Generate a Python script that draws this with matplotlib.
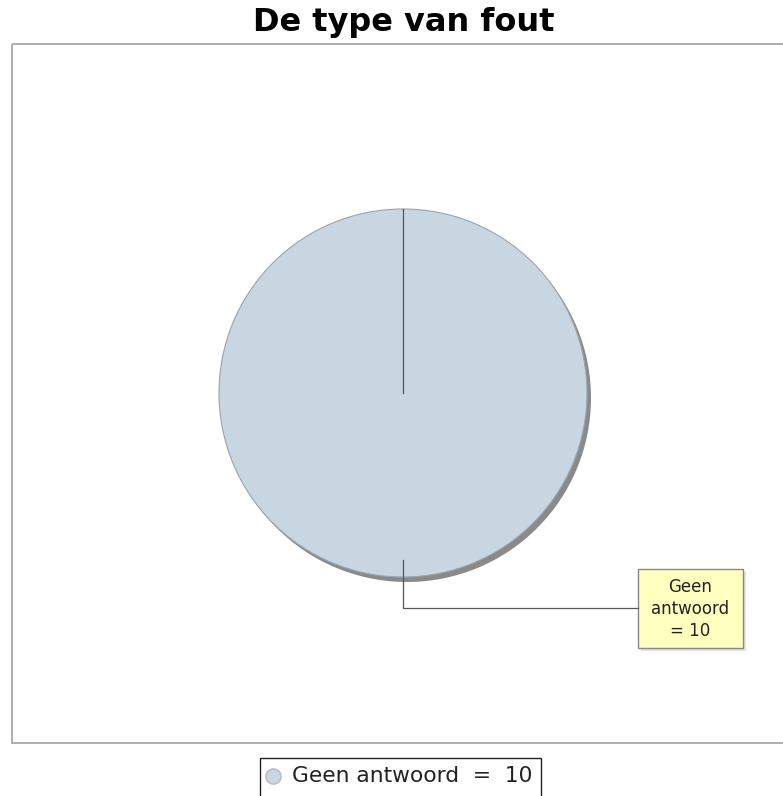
import matplotlib.pyplot as plt
from matplotlib.patches import Rectangle

# data
labels = ['Geen antwoord']
values = [10]
colors = ['#c8d6e1']

W, H = 783, 796
fig = plt.figure(figsize=(W / 100, H / 100), dpi=100)
ax = fig.add_axes([0, 0, 1, 1])

# plot area border
ax.add_patch(Rectangle((12, 44), 790, 699, fill=False, edgecolor='#a0a0a0', lw=1.2))

cx, cy, r = 403, 393, 184

# shadow
ax.pie(values, colors=['#8a8a8a'], center=(cx + 4, cy + 5), radius=r,
       startangle=90, counterclock=False, frame=True,
       wedgeprops=dict(linewidth=0))
# pie
ax.pie(values, colors=colors, center=(cx, cy), radius=r,
       startangle=90, counterclock=False, frame=True,
       wedgeprops=dict(edgecolor='#9aa4ac', linewidth=0.8))
ax.set_xlim(0, W)
ax.set_ylim(H, 0)
ax.axis('off')

# slice boundary line
ax.plot([cx, cx], [cy, cy - r], color='#555555', lw=0.9)

# label link and box
ax.plot([cx, cx, 638], [560, 608, 608], color='#555555', lw=0.9)
ax.add_patch(Rectangle((641, 572), 105, 79, facecolor='#c8c8c8', edgecolor='none', alpha=0.5))
ax.add_patch(Rectangle((638, 569), 105, 79, facecolor='#ffffc0', edgecolor='#888888', lw=1))
ax.text(690.5, 609, '%s\n= %d' % (labels[0].replace(' ', '\n'), values[0]),
        ha='center', va='center', fontsize=12, linespacing=1.3,
        color='#222222')

# title
ax.text(404, 23, 'De type van fout', ha='center', va='center',
        fontsize=23, fontweight='bold')

# legend
ax.add_patch(Rectangle((260, 758), 281, 50, fill=False, edgecolor='#222222', lw=1))
ax.scatter([273], [776], s=120, color=colors[0], edgecolor='#b0bcc6', zorder=3)
ax.text(292, 776, '%s  =  %d' % (labels[0], values[0]), ha='left', va='center',
        fontsize=15.7, color='#222222')

fig.savefig('out.png', dpi=100)
